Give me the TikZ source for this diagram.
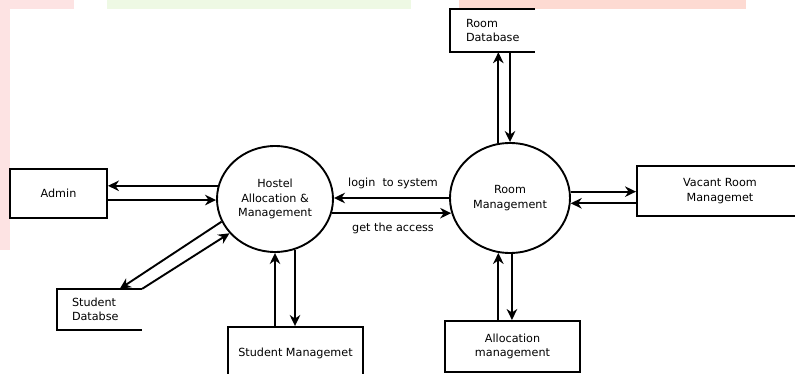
\documentclass[tikz,border=0pt]{standalone}
\usepackage{fontspec}
\setmainfont{DejaVu Sans}
\usetikzlibrary{arrows.meta,shapes.geometric}
\definecolor{wmpink}{HTML}{FDE3E3}
\definecolor{wmgreen}{HTML}{EEF9E4}
\definecolor{wmsalmon}{HTML}{FDDAD2}
\begin{document}
\begin{tikzpicture}[x=1pt,y=-1pt,
  every node/.style={font=\fontsize{11.2}{14.5}\selectfont, align=center},
  flow/.style={-{Stealth[length=11pt,width=10.5pt,inset=3.5pt]}, line width=1.9pt},
  entity/.style={draw, line width=1.9pt, rectangle, inner sep=0pt},
  process/.style={draw, line width=1.9pt, ellipse, inner sep=0pt},
  store/.style={rectangle, inner sep=0pt},
  storeline/.style={line width=1.9pt},
  lbl/.style={inner sep=1pt}]
\useasboundingbox (0,0) rectangle (795,374);
\clip (0,0) rectangle (795,374);

% faint coloured bands along the page edges
\fill[wmpink] (0,0) rectangle (74,9);
\fill[wmpink] (0,0) rectangle (10,250);
\fill[wmgreen] (107,0) rectangle (411,9);
\fill[wmsalmon] (459,0) rectangle (746,9);

% processes
\node[process, minimum width=116pt, minimum height=106pt] (hostel) at (275,199)
  {Hostel\\Allocation \&\\Management};
\node[process, minimum width=120pt, minimum height=110pt] (rm) at (510,198)
  {Room\\Management};

% external entities
\node[entity, minimum width=97pt, minimum height=49pt] (admin) at (58.5,193.5) {Admin};
\node[entity, minimum width=166pt, minimum height=50pt] (vac) at (720,191)
  {Vacant Room\\Managemet};
\node[entity, minimum width=135pt, minimum height=52pt] (smg) at (295.5,353)
  {Student Managemet};
\node[entity, minimum width=135pt, minimum height=51pt] (alloc) at (512.5,346.5)
  {Allocation\\management};

% data stores (open on the right)
\node[store, minimum width=85pt, minimum height=43pt] (rdb) at (492.5,30.5) {};
\draw[storeline] (rdb.north east) -- (rdb.north west) -- (rdb.south west) -- (rdb.south east);
\node[anchor=west, align=left, inner sep=0pt] (rdbt) at ([xshift=16pt]rdb.west) {Room\\Database};

\node[store, minimum width=85pt, minimum height=41pt] (sdb) at (99.5,309.5) {};
\draw[storeline] (sdb.north east) -- (sdb.north west) -- (sdb.south west) -- (sdb.south east);
\node[anchor=west, align=left, inner sep=0pt] (sdbt) at ([xshift=15pt]sdb.west) {Student\\Databse};

% flows: admin
\draw[flow] (hostel.167) -- (hostel.167 -| admin.east);
\draw[flow] (admin.east |- hostel.181) -- (hostel.181);

% flows: student database
\draw[flow] (hostel.203.5) -- ([xshift=63pt]sdb.north west);
\draw[flow] (sdb.north east) -- (hostel.217);

% flows: student management
\coordinate (smgin) at ([xshift=-0.5pt]smg.north);
\draw[flow] (hostel.270 |- smg.north) -- (hostel.270);
\draw[flow] (smgin |- hostel.291.5) -- (smgin);

% flows between the two processes
\draw[flow] (rm.west) -- (rm.west -| hostel.east);
\draw[flow] (hostel.346) -- (hostel.346 -| rm.194.6);
\node[lbl] (login) at (393,183) {login\ \ to system};
\node[lbl] (access) at (393,228) {get the access};

% flows: room database
\draw[flow] (rm.102.5) -- (rm.102.5 |- rdb.south);
\draw[flow] (rm.90 |- rdb.south) -- (rm.90);

% flows: vacant room management
\draw[flow] (rm.6.7) -- (rm.6.7 -| vac.west);
\draw[flow] (vac.west |- rm.355) -- (rm.355);

% flows: allocation management
\draw[flow] (rm.258.5 |- alloc.north) -- (rm.258.5);
\draw[flow] (rm.272) -- (rm.272 |- alloc.north);
\end{tikzpicture}
\end{document}
